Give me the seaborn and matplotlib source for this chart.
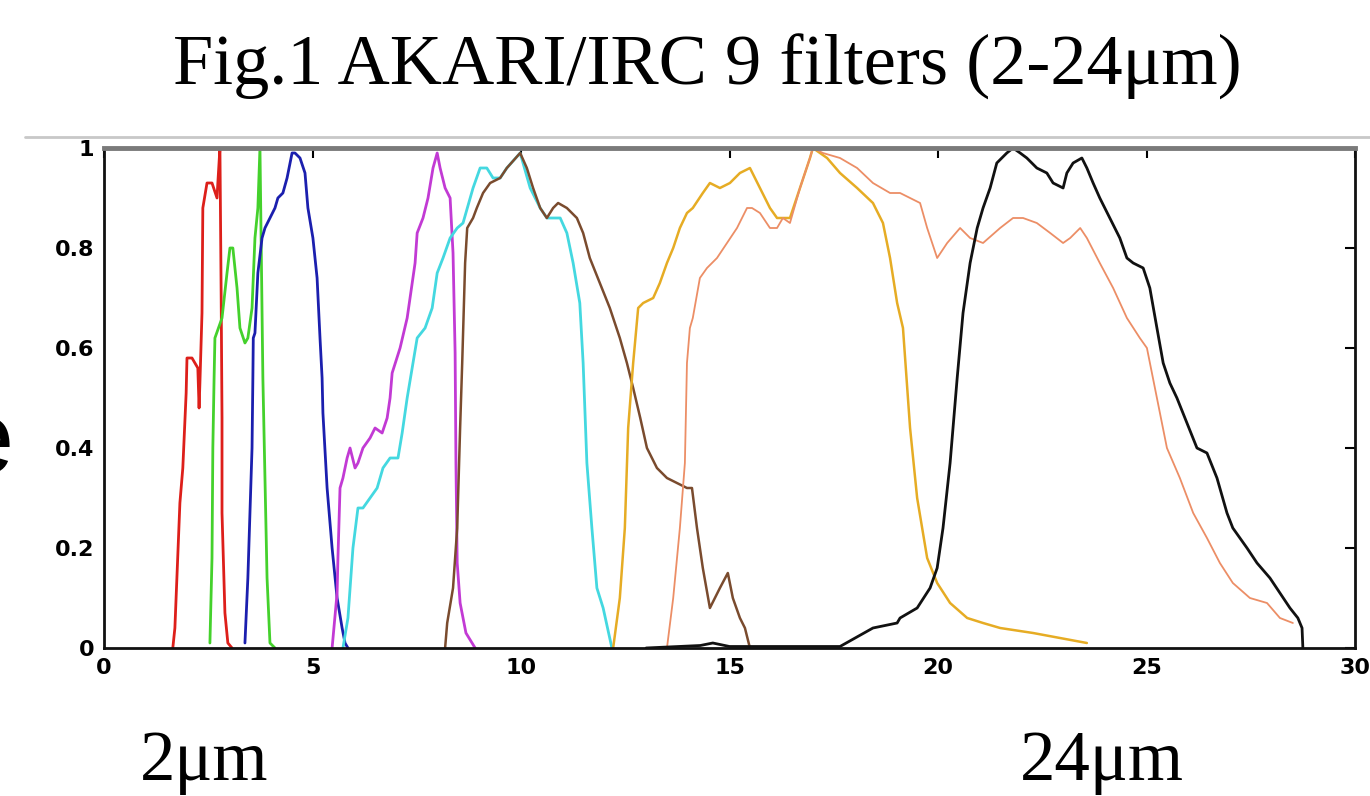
import numpy as np
import matplotlib
matplotlib.use("Agg")
import matplotlib.pyplot as plt
from matplotlib.lines import Line2D
import pandas as pd
import seaborn as sns

sns.set_style("white")
plt.rcParams['font.family'] = ['DejaVu Sans']
plt.rcParams['text.color'] = 'black'
plt.rcParams['xtick.color'] = 'black'
plt.rcParams['ytick.color'] = 'black'

# filter response curves (wavelength in um, relative response)
n2_x = [1.65, 1.70, 1.82, 1.89, 1.97, 1.99, 2.11, 2.25, 2.28, 2.30, 2.35, 2.37, 2.47, 2.59, 2.71, 2.73, 2.78,
        2.81, 2.83, 2.83, 2.90, 2.97, 3.07]
n2_y = [0.0, 0.04, 0.29, 0.36, 0.51, 0.58, 0.58, 0.56, 0.48, 0.53, 0.67, 0.88, 0.93, 0.93, 0.90, 0.93, 1.0,
        0.70, 0.46, 0.27, 0.07, 0.01, 0.0]

n3_x = [2.54, 2.59, 2.61, 2.64, 2.66, 2.83, 2.95, 3.02, 3.09, 3.19, 3.26, 3.38, 3.45, 3.55, 3.62, 3.69, 3.74,
        3.81, 3.86, 3.91, 3.98, 4.10]
n3_y = [0.01, 0.18, 0.40, 0.54, 0.62, 0.66, 0.75, 0.80, 0.80, 0.72, 0.64, 0.61, 0.62, 0.68, 0.82, 0.88, 1.0,
        0.54, 0.34, 0.14, 0.01, 0.0]

n4_x = [3.38, 3.45, 3.55, 3.57, 3.58, 3.62, 3.69, 3.79, 3.86, 3.98, 4.10, 4.17, 4.29, 4.39, 4.51, 4.58, 4.70,
        4.82, 4.89, 5.01, 5.11, 5.18, 5.23, 5.25, 5.35, 5.47, 5.59, 5.71, 5.78, 5.85]
n4_y = [0.01, 0.14, 0.40, 0.54, 0.62, 0.63, 0.75, 0.82, 0.84, 0.86, 0.88, 0.90, 0.91, 0.94, 0.99, 0.99, 0.98,
        0.95, 0.88, 0.82, 0.74, 0.62, 0.54, 0.47, 0.32, 0.20, 0.10, 0.04, 0.01, 0.0]

s7_x = [5.47, 5.59, 5.61, 5.66, 5.73, 5.83, 5.90, 6.02, 6.09, 6.21, 6.38, 6.50, 6.67, 6.79, 6.86, 6.91, 7.10,
        7.27, 7.46, 7.51, 7.65, 7.77, 7.89, 7.99, 8.06, 8.18, 8.30, 8.37, 8.42, 8.44, 8.47, 8.54, 8.68, 8.90]
s7_y = [0.0, 0.11, 0.18, 0.32, 0.34, 0.38, 0.40, 0.36, 0.37, 0.40, 0.42, 0.44, 0.43, 0.46, 0.50, 0.55, 0.60,
        0.66, 0.77, 0.83, 0.86, 0.90, 0.96, 0.99, 0.96, 0.92, 0.90, 0.79, 0.59, 0.37, 0.17, 0.09, 0.03, 0.0]

s9w_x = [5.73, 5.85, 5.97, 6.09, 6.21, 6.38, 6.55, 6.69, 6.86, 7.05, 7.15, 7.27, 7.51, 7.70, 7.87, 7.99, 8.13,
         8.30, 8.47, 8.61, 8.85, 9.02, 9.18, 9.33, 9.50, 9.66, 9.98, 10.22, 10.46, 10.62, 10.77, 10.94, 11.10,
         11.25, 11.41, 11.49, 11.58, 11.70, 11.82, 11.97, 12.18]
s9w_y = [0.0, 0.06, 0.20, 0.28, 0.28, 0.30, 0.32, 0.36, 0.38, 0.38, 0.43, 0.50, 0.62, 0.64, 0.68, 0.75, 0.78,
         0.82, 0.84, 0.85, 0.92, 0.96, 0.96, 0.94, 0.94, 0.96, 0.99, 0.92, 0.88, 0.86, 0.86, 0.86, 0.83,
         0.77, 0.69, 0.57, 0.37, 0.24, 0.12, 0.08, 0.0]

s11_x = [8.18, 8.23, 8.37, 8.47, 8.54, 8.59, 8.66, 8.71, 8.85, 8.94, 9.09, 9.26, 9.50, 9.66, 9.98, 10.14, 10.29,
         10.46, 10.62, 10.77, 10.89, 11.10, 11.34, 11.49, 11.65, 11.89, 12.13, 12.37, 12.54, 12.69, 12.86, 13.02,
         13.26, 13.50, 13.74, 13.98, 14.10, 14.22, 14.36, 14.53, 14.77, 14.96, 15.08, 15.25, 15.37, 15.49]
s11_y = [0.0, 0.05, 0.12, 0.24, 0.44, 0.57, 0.77, 0.84, 0.86, 0.88, 0.91, 0.93, 0.94, 0.96, 0.99, 0.96, 0.92,
         0.88, 0.86, 0.88, 0.89, 0.88, 0.86, 0.83, 0.78, 0.73, 0.68, 0.62, 0.57, 0.52, 0.46, 0.40,
         0.36, 0.34, 0.33, 0.32, 0.32, 0.24, 0.16, 0.08, 0.12, 0.15, 0.10, 0.06, 0.04, 0.0]

l15_x = [12.21, 12.37, 12.49, 12.57, 12.69, 12.81, 12.93, 13.17, 13.33, 13.50, 13.65, 13.81, 13.98, 14.12, 14.36,
         14.53, 14.77, 15.01, 15.25, 15.49, 15.73, 15.97, 16.14, 16.28, 16.45, 16.69, 16.93, 17.00, 17.34, 17.65,
         18.06, 18.44, 18.68, 18.85, 19.02, 19.16, 19.33, 19.50, 19.74, 19.98, 20.29, 20.70, 21.08, 21.49, 22.28,
         23.57]
l15_y = [0.0, 0.10, 0.24, 0.44, 0.57, 0.68, 0.69, 0.70, 0.73, 0.77, 0.80, 0.84, 0.87, 0.88, 0.91,
         0.93, 0.92, 0.93, 0.95, 0.96, 0.92, 0.88, 0.86, 0.86, 0.86, 0.92, 0.98, 1.0, 0.98, 0.95,
         0.92, 0.89, 0.85, 0.78, 0.69, 0.64, 0.44, 0.30, 0.18, 0.13, 0.09, 0.06, 0.05, 0.04, 0.03,
         0.01]

l18w_x = [13.50, 13.65, 13.81, 13.93, 13.98, 14.05, 14.12, 14.29, 14.46, 14.70, 14.94, 15.18, 15.42, 15.54, 15.73,
          15.97, 16.14, 16.28, 16.45, 16.69, 16.93, 17.00, 17.24, 17.65, 18.06, 18.44, 18.85, 19.09, 19.57, 19.74,
          19.98, 20.22, 20.53, 20.77, 21.08, 21.49, 21.80, 22.04, 22.37, 22.69, 23.00, 23.17, 23.41, 23.57, 23.88,
          24.20, 24.53, 24.84, 25.01, 25.25, 25.49, 25.80, 26.12, 26.45, 26.76, 27.07, 27.48, 27.89, 28.20, 28.51]
l18w_y = [0.0, 0.10, 0.24, 0.37, 0.57, 0.64, 0.66, 0.74, 0.76, 0.78, 0.81, 0.84, 0.88, 0.88, 0.87,
          0.84, 0.84, 0.86, 0.85, 0.92, 0.98, 1.0, 0.99, 0.98, 0.96, 0.93, 0.91, 0.91, 0.89, 0.84,
          0.78, 0.81, 0.84, 0.82, 0.81, 0.84, 0.86, 0.86, 0.85, 0.83, 0.81, 0.82, 0.84, 0.82, 0.77,
          0.72, 0.66, 0.62, 0.60, 0.50, 0.40, 0.34, 0.27, 0.22, 0.17, 0.13, 0.10, 0.09, 0.06, 0.05]

l24_x = [13.00, 14.30, 14.60, 15.00, 17.65, 18.44, 19.02, 19.09, 19.50, 19.81, 19.98, 20.12, 20.29, 20.46, 20.60,
         20.77, 20.94, 21.08, 21.25, 21.41, 21.65, 21.80, 21.97, 22.13, 22.37, 22.61, 22.76, 23.00, 23.09, 23.24,
         23.45, 23.57, 23.72, 23.88, 24.12, 24.36, 24.53, 24.68, 24.92, 25.08, 25.25, 25.40, 25.56, 25.73, 25.97,
         26.21, 26.45, 26.69, 26.93, 27.07, 27.41, 27.65, 27.96, 28.20, 28.44, 28.63, 28.73, 28.75]
l24_y = [0.0, 0.005, 0.01, 0.003, 0.003, 0.04, 0.05, 0.06, 0.08, 0.12, 0.16, 0.24, 0.37, 0.54, 0.67,
         0.77, 0.84, 0.88, 0.92, 0.97, 0.99, 1.0, 0.99, 0.98, 0.96, 0.95, 0.93, 0.92, 0.95, 0.97,
         0.98, 0.96, 0.93, 0.90, 0.86, 0.82, 0.78, 0.77, 0.76, 0.72, 0.64, 0.57, 0.53, 0.50, 0.45,
         0.40, 0.39, 0.34, 0.27, 0.24, 0.20, 0.17, 0.14, 0.11, 0.08, 0.06, 0.04, 0.0]

curves = [
    (n2_x, n2_y, "#dd1f1a", 2.0),
    (n3_x, n3_y, "#44d12c", 2.0),
    (n4_x, n4_y, "#1b1fae", 2.0),
    (s7_x, s7_y, "#c23ad4", 2.0),
    (s9w_x, s9w_y, "#44d8e0", 2.0),
    (s11_x, s11_y, "#7a4b2e", 1.8),
    (l15_x, l15_y, "#e6ac24", 1.8),
    (l18w_x, l18w_y, "#ec8e66", 1.3),
    (l24_x, l24_y, "#111111", 2.0),
]

fig = plt.figure(figsize=(13.7, 7.96), dpi=100)
ax = fig.add_axes([104 / 1370, 148 / 796, 1251 / 1370, 500 / 796])

for xs, ys, col, lw in curves:
    df = pd.DataFrame({"wl": xs, "resp": ys})
    sns.lineplot(data=df, x="wl", y="resp", color=col, lw=lw, sort=False,
                 estimator=None, ax=ax)

ax.set_xlim(0, 30)
ax.set_ylim(0, 1)
ax.set_xlabel("")
ax.set_ylabel("")
ax.set_xticks(np.arange(0, 31, 5))
ax.set_yticks([0, 0.2, 0.4, 0.6, 0.8, 1.0])
ax.set_yticklabels(["0", "0.2", "0.4", "0.6", "0.8", "1"])
ax.tick_params(direction="in", length=7, width=1.5, top=True, right=True,
               labelsize=16, pad=7)
for lab in ax.get_xticklabels() + ax.get_yticklabels():
    lab.set_fontweight("bold")
for side in ["left", "bottom", "right"]:
    ax.spines[side].set_color("#111111")
    ax.spines[side].set_linewidth(2)
ax.spines["top"].set_color("#7a7a7a")
ax.spines["top"].set_linewidth(3.5)

# title and labels around the plot
fig.text(0.516, 1 - 85 / 796, "Fig.1 AKARI/IRC 9 filters (2-24\u03bcm)",
         family="Liberation Serif", fontsize=52, ha="center", va="baseline")
fig.text(140 / 1370, 1 - 780 / 796, "2\u03bcm", family="Liberation Serif",
         fontsize=51, ha="left", va="baseline")
fig.text(1020 / 1370, 1 - 780 / 796, "24\u03bcm", family="Liberation Serif",
         fontsize=51, ha="left", va="baseline")
# big letter cut off at the left edge, as in the source image
fig.text(14 / 1370, 1 - 473 / 796, "e", family="Liberation Sans",
         fontsize=74, ha="right", va="baseline")
fig.add_artist(Line2D([25 / 1370, 1], [1 - 137 / 796, 1 - 137 / 796],
                      color="#c8c8c8", lw=2, transform=fig.transFigure))

fig.savefig("out.png", dpi=100)
